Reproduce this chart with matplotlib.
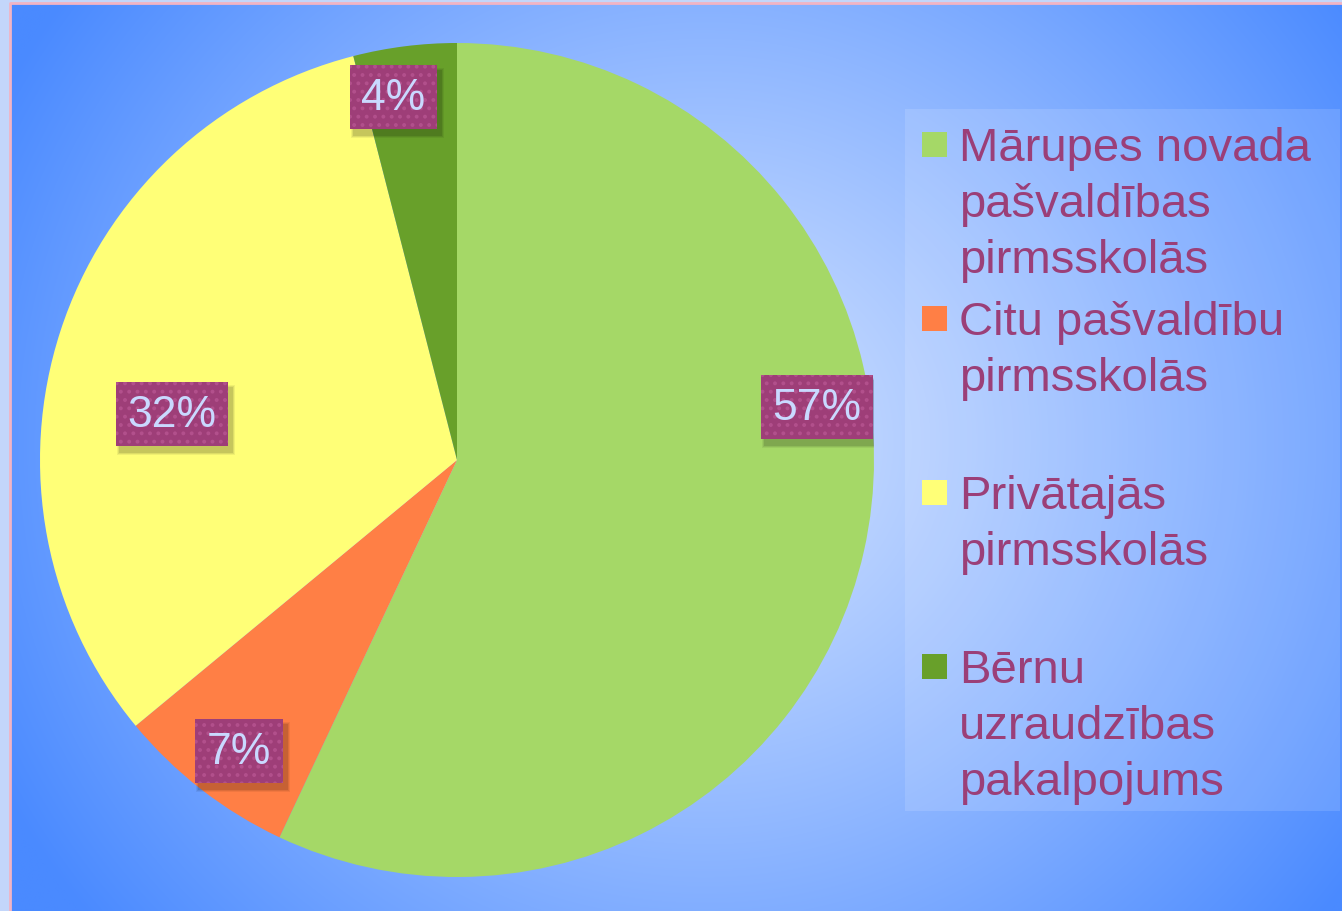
import numpy as np
import matplotlib.pyplot as plt
from matplotlib.patches import Rectangle
from matplotlib.colors import to_rgb

# data
categories = ['Mārupes novada\npašvaldības\npirmsskolās',
              'Citu pašvaldību\npirmsskolās',
              'Privātajās\npirmsskolās',
              'Bērnu\nuzraudzības\npakalpojums']
shares = [57, 7, 32, 4]
colors = ['#A5D867', '#FF7F45', '#FFFF77', '#68A02A']

# where the percent boxes sit (pie units, radius 1)
label_pos = [(0.863, 0.127), (-0.523, -0.698), (-0.683, 0.110), (-0.153, 0.870)]

W, H = 1342, 912
fig = plt.figure(figsize=(W / 100, H / 100), dpi=100)
fig.patch.set_facecolor('#C3D6FA')

# radial gradient background
bg = fig.add_axes([0, 0, 1, 1])
bg.set_xlim(0, W)
bg.set_ylim(H, 0)
bg.axis('off')
yy, xx = np.mgrid[0:H, 0:W]
d = np.sqrt(((xx - 700) / 800.0) ** 2 + ((yy - 440) / 760.0) ** 2)
d = np.clip(d, 0, 1) ** 1.1
c0 = np.array(to_rgb('#D2E2FF'))
c1 = np.array(to_rgb('#4A8AFF'))
img = c0[None, None, :] * (1 - d[..., None]) + c1[None, None, :] * d[..., None]
bg.imshow(img, extent=[10, W, H, 4], aspect='auto', zorder=0)
bg.plot([10, 10, W], [H, 4, 4], color='#F2B4C4', lw=2, zorder=1)

# legend panel
bg.add_patch(Rectangle((905, 110), 435, 702, facecolor='white', alpha=0.13,
                       edgecolor='none', zorder=2))
txt_color = '#9B3F78'
slot0, slot_step, line_step = 161, 174, 56
for i, (cat, col) in enumerate(zip(categories, colors)):
    base = slot0 + i * slot_step
    bg.add_patch(Rectangle((922, base - 28), 25, 25, facecolor=col,
                           edgecolor='none', zorder=3))
    for j, line in enumerate(cat.split('\n')):
        bg.text(959, base + j * line_step, line, color=txt_color,
                fontsize=34, family='Liberation Sans', va='baseline',
                ha='left', zorder=3)

# pie
R = 417
cx, cy = 457, 461
ax = fig.add_axes([(cx - R) / W, (H - cy - R) / H, 2 * R / W, 2 * R / H])
ax.pie(shares, colors=colors, startangle=90, counterclock=False, radius=1,
       wedgeprops=dict(linewidth=0))
ax.set_xlim(-1, 1)
ax.set_ylim(-1, 1)
ax.axis('off')

plt.rcParams['hatch.linewidth'] = 1.6
labels = []
for val, (lx, ly) in zip(shares, label_pos):
    t = ax.text(lx, ly, f'{val}%', ha='center', va='center', fontsize=32,
                family='Liberation Sans', fontweight='medium', color='#C9D9FF',
                zorder=5,
                bbox=dict(boxstyle='square,pad=0.26', facecolor='#9E3E78',
                          edgecolor='#B2508C', linewidth=0, hatch='..'))
    labels.append(t)

# soft drop shadows under the percent boxes
fig.canvas.draw()
for t in labels:
    bb = t.get_bbox_patch().get_window_extent()
    for k, a in enumerate([0.06, 0.08, 0.10]):
        grow = 3 - k
        ax.add_patch(Rectangle((0, 0), 1, 1, transform=None,
                               facecolor='black', alpha=a, edgecolor='none',
                               zorder=4))
        p = ax.patches[-1]
        p.set_xy((bb.x0 + 4 - grow, bb.y0 - 6 - grow))
        p.set_width(bb.width + 2 * grow)
        p.set_height(bb.height + 2 * grow)

fig.savefig('out.png', dpi=100)
